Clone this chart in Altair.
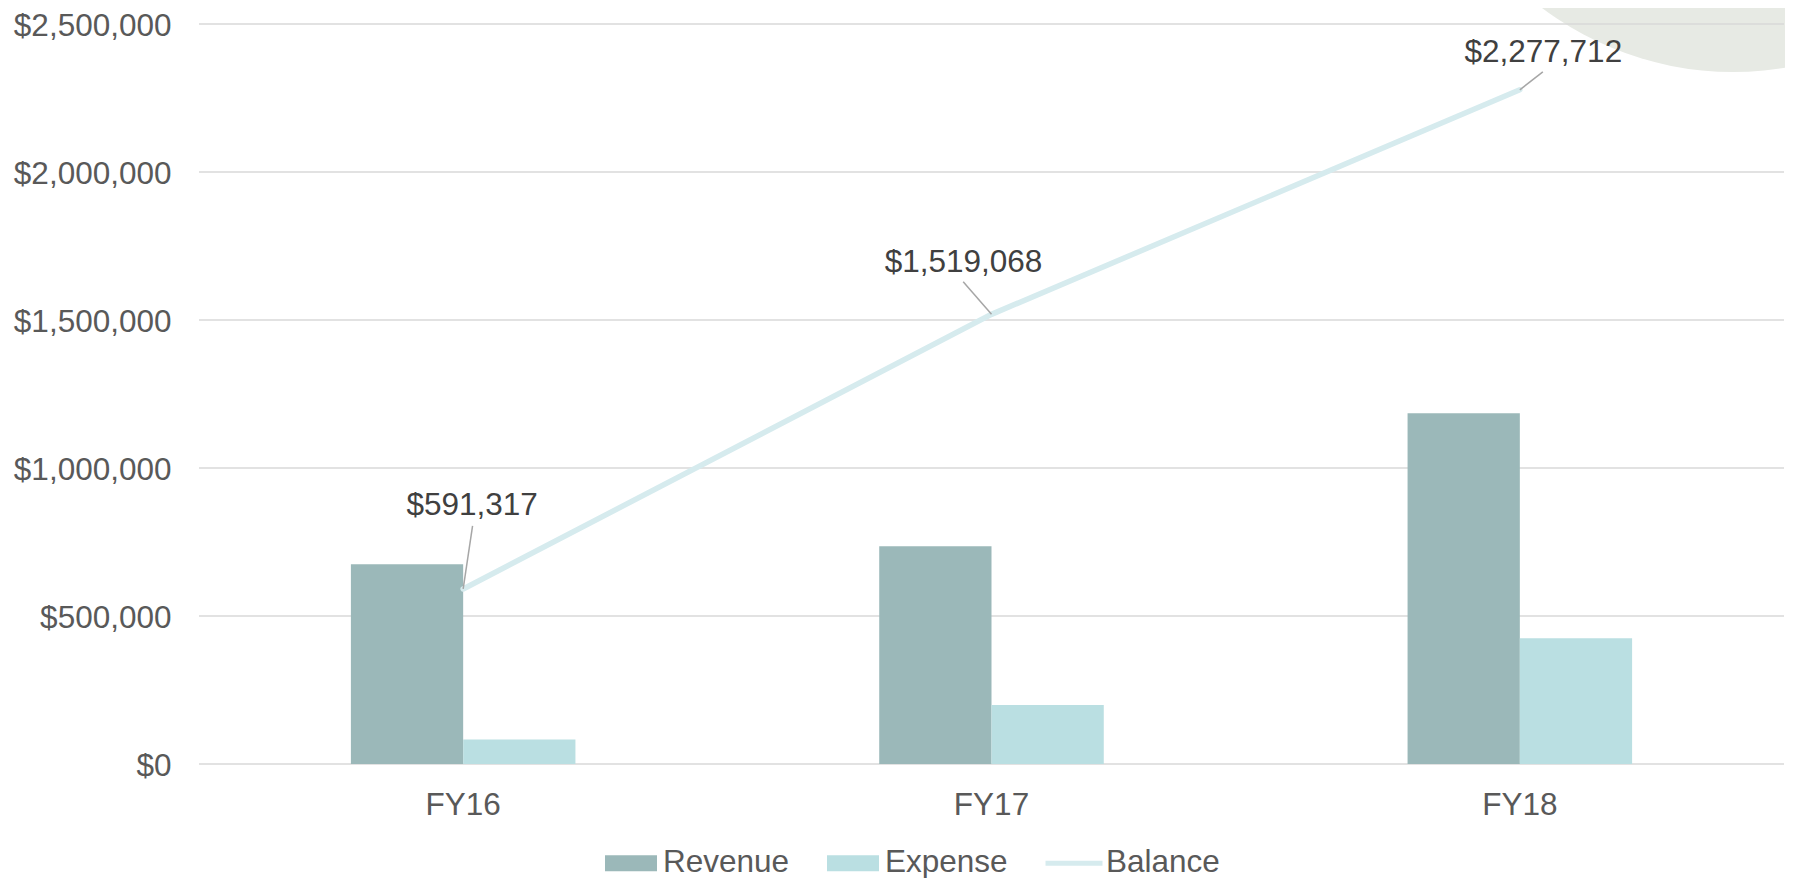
import math
import altair as alt
import pandas as pd

# ---------------- data ----------------
categories = ["FY16", "FY17", "FY18"]
revenue = [675000, 736000, 1185000]
expense = [83000, 199000, 425000]
balance = [591317, 1519068, 2277712]
y_ticks = [0, 500000, 1000000, 1500000, 2000000, 2500000]
series = ["Revenue", "Expense", "Balance"]
series_colors = ["#9BB8B9", "#BADFE2", "#D6EBEE"]

# ---------------- layout / style ----------------
PLOT_W, PLOT_H = 1585, 740
Y_MAX = 2500000
FONT = "Liberation Sans"
FS = 31.5
AXIS_COLOR = "#595959"
LABEL_COLOR = "#404040"

# data-label placement (pixels relative to each balance point)
label_dx = [9, -28, 23.5]
label_dy = [-74, -42, -28]
leader_dx = [9.4, -28.3, 23]
leader_dy = [-63, -32.6, -18]

RECT = "M-1,-0.3077H1V0.3077H-1Z"
LINE = "M-1.096,-0.1H1.096V0.1H-1.096Z"

bars_df = pd.DataFrame(
    {
        "cat": categories * 2,
        "series": ["Revenue"] * 3 + ["Expense"] * 3,
        "value": revenue + expense,
    }
)

bal_df = pd.DataFrame(
    {
        "cat": categories,
        "idx": list(range(len(categories))),
        "balance": balance,
    }
)
bal_df["lx"] = [i + d * 3 / PLOT_W for i, d in zip(bal_df["idx"], leader_dx)]
bal_df["ly"] = [b - d * Y_MAX / PLOT_H for b, d in zip(balance, leader_dy)]

grid_df = pd.DataFrame({"tick": y_ticks})

y_scale = alt.Scale(domain=[0, Y_MAX], nice=False, zero=True)
y_axis = alt.Axis(
    title=None,
    values=y_ticks,
    format="$,.0f",
    grid=False,
    domain=False,
    ticks=False,
    labelFont=FONT,
    labelFontSize=FS,
    labelColor=AXIS_COLOR,
    labelPadding=28,
    labelOffset=2,
)

color_scale = alt.Scale(domain=series, range=series_colors)
legend = alt.Legend(title=None)

# decorative background circle (top right)
circle = (
    alt.Chart(pd.DataFrame({"k": [0]}))
    .mark_point(shape="circle", filled=True, size=634 ** 2,
                color="#E7EAE4", opacity=1, strokeWidth=0)
    .encode(x=alt.value(1534), y=alt.value(-269))
)

grid = (
    alt.Chart(grid_df)
    .mark_rule(color="#D9D9D9", strokeWidth=1.5)
    .encode(y=alt.Y("tick:Q", scale=y_scale, axis=y_axis))
)

bars = (
    alt.Chart(bars_df)
    .mark_bar(opacity=1)
    .encode(
        x=alt.X(
            "cat:N",
            sort=categories,
            scale=alt.Scale(paddingInner=0.575, paddingOuter=0.2875),
            axis=alt.Axis(
                title=None,
                labelAngle=0,
                domain=False,
                ticks=False,
                labelFont=FONT,
                labelFontSize=FS,
                labelColor=AXIS_COLOR,
                labelPadding=25,
            ),
        ),
        xOffset=alt.XOffset("series:N", sort=["Revenue", "Expense"],
                            scale=alt.Scale(paddingInner=0, paddingOuter=0)),
        y=alt.Y("value:Q", scale=y_scale, axis=y_axis),
        color=alt.Color("series:N", scale=color_scale, legend=legend),
    )
)

legend_pts = (
    alt.Chart(bars_df)
    .transform_filter("false")
    .mark_point(filled=True, opacity=1)
    .encode(
        color=alt.Color("series:N", scale=color_scale, legend=legend),
        shape=alt.Shape("series:N", scale=alt.Scale(domain=series, range=[RECT, RECT, LINE]),
                        legend=legend),
    )
)

xq = alt.X("idx:Q", scale=alt.Scale(domain=[-0.5, 2.5], nice=False, zero=False), axis=None)
yq = alt.Y("balance:Q", scale=y_scale, axis=y_axis)

line = alt.Chart(bal_df).mark_line(color="#D6EBEE", strokeWidth=5.5, strokeCap="round").encode(x=xq, y=yq)

leaders = (
    alt.Chart(bal_df)
    .mark_rule(color="#A6A6A6", strokeWidth=1.5)
    .encode(x=xq, x2="lx:Q", y=yq, y2="ly:Q")
)

texts = []
for i in range(len(categories)):
    texts.append(
        alt.Chart(bal_df)
        .transform_filter(alt.datum.idx == i)
        .mark_text(font=FONT, fontSize=FS, color=LABEL_COLOR, align="center",
                   baseline="alphabetic", dx=label_dx[i], dy=label_dy[i])
        .encode(x=xq, y=yq, text=alt.Text("balance:Q", format="$,.0f"))
    )

annot = alt.layer(line, leaders, *texts)

chart = (
    alt.layer(circle, grid, bars, legend_pts, annot)
    .resolve_scale(x="independent")
    .properties(
        width=PLOT_W,
        height=PLOT_H,
        autosize=alt.AutoSizeParams(type="none"),
        padding={"left": 191, "top": 16, "right": 1, "bottom": 114},
        background="white",
    )
    .configure_view(stroke=None)
    .configure_legend(
        orient="none",
        legendX=406,
        legendY=813,
        direction="horizontal",
        symbolSize=2704,
        symbolStrokeWidth=0,
        symbolOpacity=1,
        labelFont=FONT,
        labelFontSize=FS,
        labelColor=AXIS_COLOR,
        labelOffset=6,
        columnPadding=37,
        padding=0,
    )
)

chart.save("out.html", embed_options={"renderer": "svg", "actions": False})
